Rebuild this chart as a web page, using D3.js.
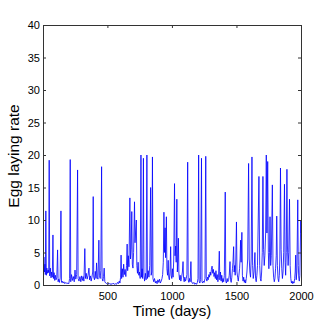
<!DOCTYPE html>
<html>
<head>
<meta charset="utf-8">
<script src="https://cdn.jsdelivr.net/npm/d3@7"></script>
<style>
  body { margin: 0; background: #fff; }
  svg { display: block; font-family: "Liberation Sans", Arial, Helvetica, sans-serif; }
</style>
</head>
<body>
<svg></svg>
<script>
// egg laying rate over time, [day, rate]
const series = [
  [0,3.5],[4,1.8],[8,4.3],[12,2.0],[16,3.2],[19,1.6],[23,11.4],[27,1.5],[31,2.6],[36,1.8],[41,2.3],[45,1.9],
  [49,19.2],[53,1.4],[58,2.6],[63,1.1],[68,2.0],[73,1.2],[78,7.7],[82,1.0],[87,1.9],[92,0.7],[97,1.5],[102,0.8],
  [108,1.2],[114,5.4],[118,0.5],[123,0.9],[128,0.4],[134,1.1],[140,11.4],[144,0.4],[150,0.6],[156,0.3],[163,0.5],
  [170,0.2],[178,0.4],[186,0.2],[194,0.3],[201,0.2],[207,1.0],[212,19.3],[216,0.5],[222,1.6],[229,0.7],[236,1.3],
  [243,0.5],[249,2.3],[255,0.9],[262,1.6],[269,17.7],[273,1.0],[280,0.6],[287,1.3],[294,0.5],[300,1.4],[306,0.7],
  [312,1.3],[318,0.6],[325,5.6],[330,1.0],[336,1.8],[343,0.9],[350,1.5],[357,2.6],[362,0.8],[368,1.4],[374,0.6],
  [380,1.2],[386,2.0],[390,13.6],[394,1.2],[400,0.8],[406,2.1],[412,1.0],[416,3.4],[421,1.2],[427,0.9],[434,6.9],
  [438,1.5],[444,1.0],[449,2.2],[455,18.2],[459,1.0],[465,0.6],[470,1.3],[475,2.6],[480,0.5],[487,0.3],[495,0.2],
  [503,0.1],[511,0.3],[520,0.1],[528,0.2],[536,0.1],[545,0.3],[553,0.1],[561,0.2],[570,0.1],[578,0.4],[585,0.2],
  [592,0.6],[597,0.3],[602,1.2],[606,4.6],[610,1.0],[616,2.5],[621,1.2],[626,3.2],[631,1.6],[637,2.4],[643,1.3],
  [648,3.0],[653,6.3],[657,2.2],[662,4.5],[667,2.8],[674,13.4],[679,4.0],[684,5.5],[689,11.3],[693,3.2],[698,2.6],
  [703,5.0],[710,12.8],[714,6.5],[718,8.0],[724,10.0],[728,3.0],[733,1.8],[738,3.5],[743,1.5],[748,2.0],[754,1.0],
  [760,20.0],[764,1.2],[769,2.5],[773,1.0],[779,19.5],[783,1.5],[788,0.6],[794,1.8],[800,0.8],[806,20.0],[810,1.0],
  [816,2.2],[822,1.2],[828,3.0],[835,15.0],[839,1.5],[844,2.0],[849,19.7],[853,1.0],[859,0.5],[865,1.0],[872,0.3],
  [878,0.6],[885,0.2],[891,0.8],[898,0.4],[904,0.9],[910,0.3],[917,0.6],[923,1.0],[928,1.6],[933,3.5],[938,11.2],
  [942,5.0],[947,8.8],[951,4.2],[957,10.5],[961,2.5],[966,1.5],[971,3.8],[975,1.2],[980,0.8],[985,2.0],[990,5.9],
  [994,1.5],[999,1.0],[1004,2.5],[1009,1.2],[1014,4.0],[1020,15.6],[1024,4.5],[1029,6.0],[1033,3.5],[1038,13.2],
  [1042,2.0],[1046,4.0],[1050,7.2],[1054,1.8],[1059,0.8],[1064,1.5],[1069,0.6],[1075,1.2],[1081,2.0],[1086,3.6],
  [1090,1.0],[1095,0.5],[1100,1.2],[1105,0.6],[1111,1.0],[1116,1.6],[1122,18.9],[1126,0.8],[1131,0.4],[1136,1.0],
  [1141,0.5],[1147,3.6],[1151,0.6],[1157,0.3],[1163,0.2],[1170,0.4],[1177,0.1],[1184,0.3],[1191,0.1],[1197,0.4],
  [1202,1.0],[1207,20.0],[1211,0.6],[1216,0.3],[1222,0.8],[1229,19.5],[1233,0.5],[1238,0.3],[1244,0.6],[1250,0.4],
  [1256,1.0],[1262,19.8],[1266,1.0],[1271,0.6],[1276,1.2],[1281,0.8],[1286,1.6],[1291,1.2],[1296,2.0],[1301,1.5],
  [1306,2.4],[1311,2.9],[1316,1.8],[1321,2.4],[1326,1.3],[1331,1.9],[1336,1.0],[1341,2.2],[1346,0.8],[1351,1.6],
  [1356,0.5],[1361,1.2],[1367,5.2],[1371,0.8],[1376,2.0],[1381,0.6],[1386,1.5],[1391,0.4],[1396,1.0],[1401,0.5],
  [1406,1.5],[1413,14.3],[1417,0.6],[1422,0.3],[1428,1.0],[1433,0.5],[1439,0.8],[1444,1.5],[1450,3.6],[1454,0.8],
  [1459,0.4],[1464,1.2],[1469,2.5],[1473,3.5],[1478,5.9],[1482,2.0],[1486,3.0],[1490,1.5],[1495,4.0],[1500,9.7],
  [1504,2.0],[1509,1.2],[1514,0.6],[1519,1.5],[1524,2.5],[1528,4.0],[1532,6.9],[1536,3.5],[1542,8.1],[1546,1.5],
  [1551,0.6],[1556,1.2],[1561,0.4],[1566,0.8],[1571,0.3],[1576,1.0],[1581,2.0],[1587,4.0],[1594,18.7],[1599,4.0],
  [1604,2.0],[1609,1.2],[1614,4.0],[1620,19.7],[1625,3.0],[1630,1.0],[1636,2.0],[1643,5.0],[1648,1.0],[1653,0.5],
  [1658,1.5],[1663,3.0],[1674,16.7],[1680,3.0],[1685,1.0],[1690,0.6],[1695,2.0],[1700,5.0],[1705,16.7],[1710,5.5],
  [1715,3.0],[1720,4.5],[1726,8.0],[1731,20.0],[1736,8.0],[1742,19.0],[1747,5.0],[1751,2.5],[1756,5.0],[1760,10.5],
  [1765,3.0],[1770,4.5],[1778,15.4],[1783,3.0],[1788,1.2],[1793,0.5],[1798,1.0],[1803,2.5],[1808,4.5],[1812,10.6],
  [1817,3.0],[1822,1.0],[1827,0.5],[1832,1.5],[1836,4.0],[1841,18.0],[1846,5.5],[1851,2.5],[1856,1.0],[1861,2.0],
  [1866,5.0],[1872,15.5],[1877,3.5],[1881,1.5],[1886,5.0],[1891,17.8],[1895,6.0],[1900,3.0],[1905,5.0],[1911,13.2],
  [1916,3.0],[1921,1.0],[1926,0.3],[1931,0.6],[1936,0.2],[1941,0.5],[1946,0.3],[1951,1.0],[1955,2.0],[1959,4.6],
  [1963,0.8],[1968,2.0],[1975,13.1],[1979,3.0],[1983,1.0],[1987,0.6],[1991,1.5],[1995,6.0],[1998,10.0],[2000,8.0]
];

const xTicks = [500, 1000, 1500, 2000];
const yTicks = [0, 5, 10, 15, 20, 25, 30, 35, 40];
const xLabel = "Time (days)";
const yLabel = "Egg laying rate";

const svgWidth = 333;
const svgHeight = 322;
const margin = {top: 25, right: 32, bottom: 37, left: 43};
const w = svgWidth - margin.left - margin.right;
const h = svgHeight - margin.top - margin.bottom;

const svg = d3.select("svg")
  .attr("width", svgWidth)
  .attr("height", svgHeight);

svg.append("rect").attr("width", svgWidth).attr("height", svgHeight).attr("fill", "#fff");

const g = svg.append("g")
  .attr("transform", "translate(" + margin.left + "," + margin.top + ")");

let scaleX = d3.scaleLinear().domain([1, 2000]).range([0, w]);
let scaleY = d3.scaleLinear().domain([0, 40]).range([h, 0]);

g.append("clipPath").attr("id", "plotclip")
  .append("rect").attr("width", w).attr("height", h);

// the series
g.append("path")
  .datum(series)
  .attr("clip-path", "url(#plotclip)")
  .attr("fill", "none")
  .attr("stroke", "#0000ff")
  .attr("stroke-width", 0.8)
  .attr("stroke-linejoin", "round")
  .attr("d", d3.line().x(d => scaleX(d[0])).y(d => scaleY(d[1])));

// axes, matlab style: ticks pointing inward, box all round
function styleAxis(sel) {
  sel.select(".domain").remove();
  sel.selectAll(".tick line").attr("stroke", "#333");
  sel.selectAll(".tick text").attr("fill", "#000").attr("font-size", 11)
    .attr("font-family", "Liberation Sans, Arial, Helvetica, sans-serif");
}

g.append("g")
  .attr("transform", "translate(0," + h + ")")
  .call(d3.axisBottom(scaleX).tickValues(xTicks).tickFormat(d3.format("d"))
    .tickSizeInner(-3).tickSizeOuter(0).tickPadding(7))
  .call(styleAxis);

g.append("g")
  .call(d3.axisTop(scaleX).tickValues(xTicks).tickSizeInner(-3).tickSizeOuter(0).tickFormat(""))
  .call(styleAxis);

g.append("g")
  .call(d3.axisLeft(scaleY).tickValues(yTicks).tickSizeInner(-3).tickSizeOuter(0).tickPadding(3))
  .call(styleAxis);

g.append("g")
  .attr("transform", "translate(" + w + ",0)")
  .call(d3.axisRight(scaleY).tickValues(yTicks).tickSizeInner(-3).tickSizeOuter(0).tickFormat(""))
  .call(styleAxis);

g.append("rect")
  .attr("x", 0.5).attr("y", 0.5)
  .attr("width", w).attr("height", h)
  .attr("fill", "none")
  .attr("stroke", "#333")
  .attr("stroke-width", 1);

// labels
svg.append("text")
  .attr("x", margin.left + w / 2)
  .attr("y", 316)
  .attr("text-anchor", "middle")
  .attr("font-size", 15)
  .text(xLabel);

svg.append("text")
  .attr("transform", "translate(18.5," + (margin.top + h / 2 + 1) + ") rotate(-90)")
  .attr("text-anchor", "middle")
  .attr("font-size", 15.5)
  .text(yLabel);
</script>
</body>
</html>
